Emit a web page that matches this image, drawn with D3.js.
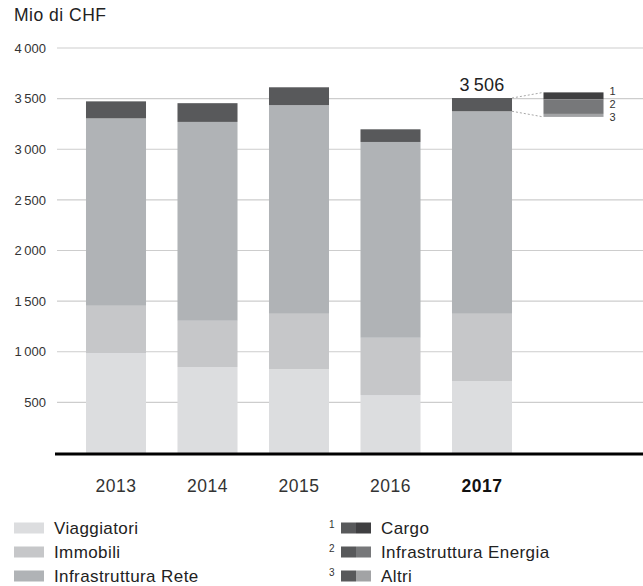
<!DOCTYPE html>
<html>
<head>
<meta charset="utf-8">
<script src="https://cdn.jsdelivr.net/npm/d3@7"></script>
<style>
  html, body { margin: 0; padding: 0; background: #fff; }
  svg { display: block; font-family: 'Liberation Sans', Arial, Helvetica, sans-serif; }
</style>
</head>
<body>
<div id="chart"></div>
<script>
// dati (Mio di CHF)
const years = ['2013', '2014', '2015', '2016', '2017'];
const viaggiatori = [987, 849, 829, 572, 710];
const immobili = [467, 457, 546, 566, 665];
const infraRete = [1851, 1964, 2061, 1934, 2000];
const altriSegmenti = [168, 185, 176, 125, 131];
const dettaglioNomi = ['Cargo', 'Infrastruttura Energia', 'Altri'];
const dettaglio2017 = [37, 78, 16];
const yTicks = [500, 1000, 1500, 2000, 2500, 3000, 3500, 4000];

const width = 643;
const height = 586;
const zoomFactor = 1.85;

const colors = {
  viaggiatori: '#dcdddf',
  immobili: '#c6c7c9',
  infraRete: '#b0b3b6',
  altriSegmenti: '#58595b',
};
const detailColors = ['#3f3f41', '#77787a', '#a2a3a5'];

const locale = d3.formatLocale({ decimal: '.', thousands: '\u2009', grouping: [3], currency: ['', ''] });
const fmt = locale.format(',d');

const svg = d3.select('#chart')
  .append('svg')
  .attr('width', width)
  .attr('height', height);

const x = d3.scaleBand()
  .domain([...years, 'dettaglio'])
  .range([70.25, 619.25])
  .paddingInner(0.344)
  .paddingOuter(0.172);

const y = d3.scaleLinear()
  .domain([0, 4000])
  .range([453, 48]);

// titolo
svg.append('text')
  .attr('x', 14)
  .attr('y', 21)
  .attr('font-size', 17.5)
  .attr('letter-spacing', 0.5)
  .attr('fill', '#222')
  .text('Mio di CHF');

// griglia
svg.append('g')
  .selectAll('line')
  .data(yTicks)
  .join('line')
  .attr('x1', 57)
  .attr('x2', width)
  .attr('y1', (d) => y(d))
  .attr('y2', (d) => y(d))
  .attr('stroke', '#cdcdcd')
  .attr('stroke-width', 1.2);

svg.append('g')
  .selectAll('text')
  .data([...yTicks].reverse())
  .join('text')
  .attr('x', 46)
  .attr('y', (d) => y(d))
  .attr('dy', '0.36em')
  .attr('text-anchor', 'end')
  .attr('font-size', 13)
  .attr('fill', '#333')
  .text((d) => fmt(d));

// barre impilate
const rows = years.map((yr, i) => ({
  year: yr,
  viaggiatori: viaggiatori[i],
  immobili: immobili[i],
  infraRete: infraRete[i],
  altriSegmenti: altriSegmenti[i],
}));
const keys = ['viaggiatori', 'immobili', 'infraRete', 'altriSegmenti'];
const stacked = d3.stack().keys(keys)(rows);

svg.append('g')
  .selectAll('g')
  .data(stacked)
  .join('g')
  .attr('fill', (s) => colors[s.key])
  .selectAll('rect')
  .data((s) => s)
  .join('rect')
  .attr('x', (d) => x(d.data.year))
  .attr('width', x.bandwidth())
  .attr('y', (d) => y(d[1]))
  .attr('height', (d) => y(d[0]) - y(d[1]));

// linea di base
svg.append('line')
  .attr('x1', 55)
  .attr('x2', width)
  .attr('y1', y(0) + 1)
  .attr('y2', y(0) + 1)
  .attr('stroke', '#000')
  .attr('stroke-width', 3);

// etichette anni
svg.append('g')
  .selectAll('text')
  .data(years)
  .join('text')
  .attr('x', (d) => x(d) + x.bandwidth() / 2)
  .attr('y', 492)
  .attr('text-anchor', 'middle')
  .attr('font-size', 17.5)
  .attr('letter-spacing', 0.5)
  .attr('font-weight', (d) => (d === '2017' ? 'bold' : 'normal'))
  .attr('fill', (d) => (d === '2017' ? '#111' : '#333'))
  .text((d) => d);

// totale 2017
const last = stacked[stacked.length - 1][years.length - 1];
svg.append('text')
  .attr('x', x('2017') + x.bandwidth() / 2)
  .attr('y', y(last[1]) - 7)
  .attr('text-anchor', 'middle')
  .attr('font-size', 18)
  .attr('letter-spacing', 0.3)
  .attr('fill', '#222')
  .text(fmt(last[1]));

// dettaglio 2017
const segTop = y(last[1]);
const segBottom = y(last[0]);
const segMid = (segTop + segBottom) / 2;
const detailTotal = d3.sum(dettaglio2017);
const yDetail = d3.scaleLinear()
  .domain([0, detailTotal])
  .range([
    segMid + ((segBottom - segTop) * zoomFactor) / 2,
    segMid - ((segBottom - segTop) * zoomFactor) / 2,
  ]);

let acc = 0;
const detailStack = dettaglio2017.map((v) => {
  const d = { v0: detailTotal - acc - v, v1: detailTotal - acc, value: v };
  acc += v;
  return d;
});

svg.append('g')
  .selectAll('rect')
  .data(detailStack)
  .join('rect')
  .attr('x', x('dettaglio'))
  .attr('width', x.bandwidth())
  .attr('y', (d) => yDetail(d.v1))
  .attr('height', (d) => yDetail(d.v0) - yDetail(d.v1))
  .attr('fill', (d, i) => detailColors[i]);

const barRight = x('2017') + x.bandwidth();
const detLeft = x('dettaglio');
svg.append('g')
  .selectAll('line')
  .data([[segTop, yDetail(detailTotal)], [segBottom, yDetail(0)]])
  .join('line')
  .attr('x1', barRight)
  .attr('x2', detLeft)
  .attr('y1', (d) => d[0])
  .attr('y2', (d) => d[1])
  .attr('stroke', '#a8a8a8')
  .attr('stroke-width', 1)
  .attr('stroke-dasharray', '2,2');

svg.append('g')
  .selectAll('text')
  .data(dettaglioNomi)
  .join('text')
  .attr('x', detLeft + x.bandwidth() + 6)
  .attr('y', (d, i) => yDetail(detailTotal) - 1 + i * 13)
  .attr('dy', '0.36em')
  .attr('font-size', 11)
  .attr('fill', '#333')
  .text((d, i) => i + 1);

// legenda
const legendRows = [528, 552, 576];
const leftLegend = [
  { name: 'Viaggiatori', color: colors.viaggiatori },
  { name: 'Immobili', color: colors.immobili },
  { name: 'Infrastruttura Rete', color: colors.infraRete },
];

const lg = svg.append('g')
  .selectAll('g')
  .data(leftLegend)
  .join('g')
  .attr('transform', (d, i) => `translate(14,${legendRows[i]})`);
lg.append('rect')
  .attr('y', -5.5)
  .attr('width', 30)
  .attr('height', 11)
  .attr('fill', (d) => d.color);
lg.append('text')
  .attr('x', 40)
  .attr('dy', '0.36em')
  .attr('font-size', 17)
  .attr('letter-spacing', 0.4)
  .attr('fill', '#222')
  .text((d) => d.name);

const rg = svg.append('g')
  .selectAll('g')
  .data(dettaglioNomi)
  .join('g')
  .attr('transform', (d, i) => `translate(341,${legendRows[i]})`);
rg.append('text')
  .attr('x', -12)
  .attr('y', 0)
  .attr('font-size', 10)
  .attr('fill', '#333')
  .text((d, i) => i + 1);
rg.append('rect')
  .attr('y', -5.5)
  .attr('width', 15)
  .attr('height', 11)
  .attr('fill', colors.altriSegmenti);
rg.append('rect')
  .attr('x', 15)
  .attr('y', -5.5)
  .attr('width', 15)
  .attr('height', 11)
  .attr('fill', (d, i) => detailColors[i]);
rg.append('text')
  .attr('x', 40)
  .attr('dy', '0.36em')
  .attr('font-size', 17)
  .attr('letter-spacing', 0.4)
  .attr('fill', '#222')
  .text((d) => d);
</script>
</body>
</html>
